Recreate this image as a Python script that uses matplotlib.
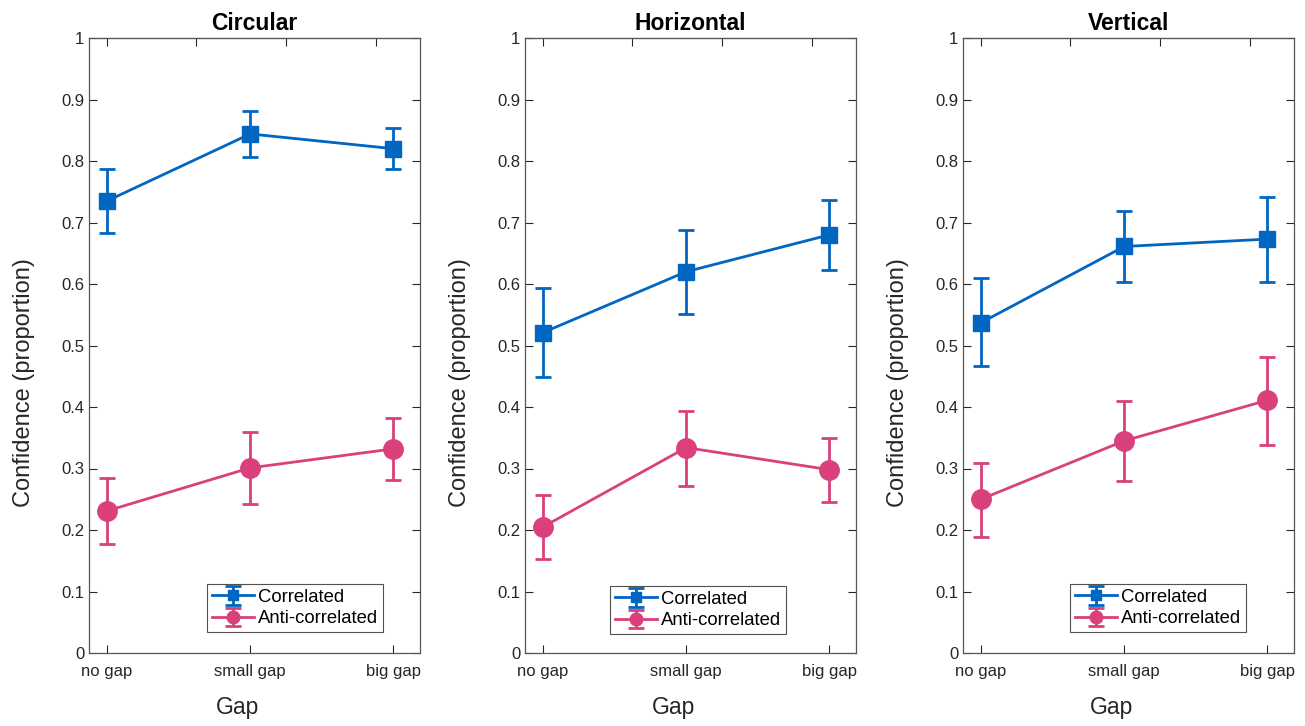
import matplotlib.pyplot as plt
import numpy as np

plt.rcParams['font.family'] = ['Liberation Sans', 'DejaVu Sans']

panels = ['Circular', 'Horizontal', 'Vertical']
gaps = ['no gap', 'small gap', 'big gap']
x = np.array([1, 2, 3])

# correlated condition: mean, lower, upper
corr_mean = [[0.735, 0.844, 0.820], [0.521, 0.620, 0.680], [0.537, 0.661, 0.673]]
corr_low = [[0.683, 0.807, 0.787], [0.449, 0.552, 0.622], [0.467, 0.604, 0.604]]
corr_high = [[0.787, 0.882, 0.854], [0.593, 0.687, 0.737], [0.609, 0.718, 0.741]]

# anti-correlated condition
anti_mean = [[0.231, 0.301, 0.332], [0.205, 0.334, 0.298], [0.250, 0.345, 0.411]]
anti_low = [[0.177, 0.242, 0.281], [0.153, 0.272, 0.246], [0.189, 0.280, 0.339]]
anti_high = [[0.284, 0.360, 0.382], [0.257, 0.394, 0.349], [0.309, 0.409, 0.482]]

blue = '#0066c2'
pink = '#d9407c'
axcol = '#262626'

fig = plt.figure(figsize=(13.05, 7.26), dpi=100)
lefts = [89, 525, 963]
legend_boxes = [(207, 632), (610, 634), (1070, 632)]

for i, name in enumerate(panels):
    ax = fig.add_axes([lefts[i] / 1305, 73 / 726, 331 / 1305, 615 / 726])
    cm = np.array(corr_mean[i])
    am = np.array(anti_mean[i])
    ax.errorbar(x, cm, yerr=[cm - np.array(corr_low[i]), np.array(corr_high[i]) - cm],
                color=blue, lw=2, marker='s', ms=11, capsize=6, capthick=2,
                elinewidth=2, label='Correlated')
    ax.errorbar(x, am, yerr=[am - np.array(anti_low[i]), np.array(anti_high[i]) - am],
                color=pink, lw=2, marker='o', ms=14, capsize=6, capthick=2,
                elinewidth=2, label='Anti-correlated')
    ax.set_xlim(0.875, 3.185)
    ax.set_ylim(0, 1)
    ax.set_yticks(np.arange(0, 1.01, 0.1))
    ax.set_yticklabels(['0'] + ['%.1f' % v for v in np.arange(0.1, 0.95, 0.1)] + ['1'])
    ax.set_xticks(x)
    ax.set_xticklabels(gaps)
    ax.tick_params(axis='both', direction='in', length=6, width=0.8, colors=axcol,
                   labelsize=12, right=True)
    ax.tick_params(axis='x', pad=8)
    for sp in ax.spines.values():
        sp.set_color('#555555')
        sp.set_linewidth(0.9)
    top = ax.secondary_xaxis('top')
    top.set_xticks([1, 1.625, 2.25, 2.875])
    top.set_xticklabels([])
    top.tick_params(direction='in', length=6, width=0.8, colors=axcol)
    top.spines['top'].set_color('#555555')
    ax.set_title(name, fontsize=16.5, fontweight='bold', pad=6)
    ax.set_ylabel('Confidence (proportion)', fontsize=17, color=axcol)
    ax.yaxis.set_label_coords(-0.163, 0.44)
    ax.set_xlabel('Gap', fontsize=16.5, color=axcol)
    ax.xaxis.set_label_coords(0.45, -0.07)
    lx, ly = legend_boxes[i]
    leg = ax.legend(loc='lower left', bbox_to_anchor=(lx / 1305, (726 - ly) / 726),
                    bbox_transform=fig.transFigure, fontsize=13.3, frameon=True,
                    fancybox=False, borderpad=0.25, labelspacing=0.25,
                    handlelength=2.3, handletextpad=0.2, borderaxespad=0,
                    markerscale=0.65)
    leg.get_frame().set_edgecolor('#262626')
    leg.get_frame().set_linewidth(0.8)

plt.savefig('out.png', dpi=100)
